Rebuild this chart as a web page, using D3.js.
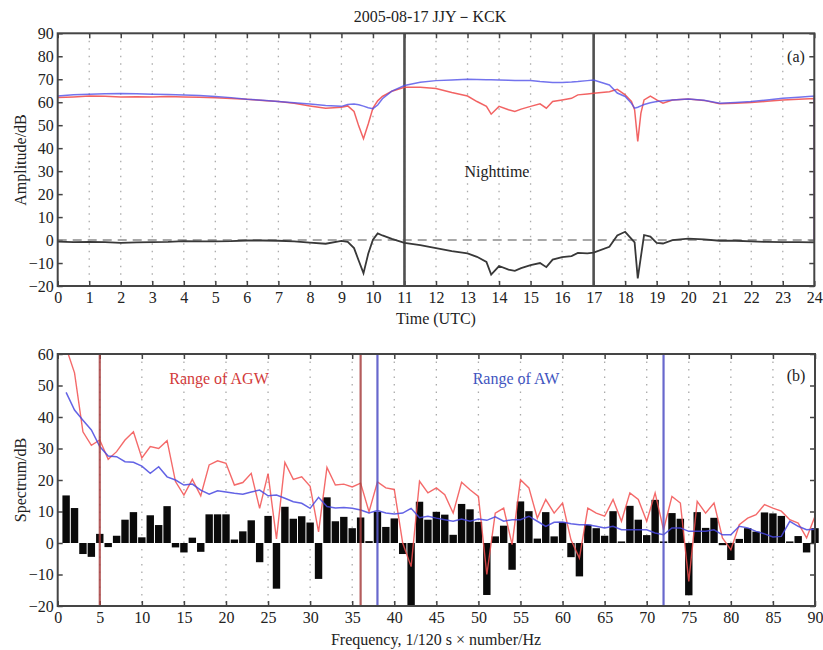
<!DOCTYPE html>
<html><head><meta charset="utf-8">
<script src="https://cdn.jsdelivr.net/npm/d3@7"></script>
<style>body{margin:0;background:#fff}svg{display:block}text{font-family:"Liberation Serif","DejaVu Serif",serif}</style>
</head><body><svg id="c" width="823" height="650"></svg>
<script>
// ---------- Panel (a) data ----------
const hours = [0,0.5,1,1.5,2,2.5,3,3.5,4,4.5,5,5.5,6,6.5,7,7.5,8,8.5,9,9.2,9.4,9.55,9.7,9.85,10,10.15,10.3,10.6,11,11.5,12,12.5,13,13.3,13.6,13.75,14,14.3,14.5,14.7,15,15.3,15.5,15.7,16,16.3,16.5,16.8,17,17.5,17.75,18,18.2,18.3,18.4,18.5,18.6,18.8,19,19.2,19.5,20,20.5,21,21.5,22,22.5,23,23.5,24];
const ampRed = [62.0,62.3,62.7,62.6,62.3,62.4,62.3,62.5,62.3,62.2,61.9,61.6,61.3,60.8,60.3,59.5,58.4,57.4,57.8,58.4,56.0,49.6,44.1,50.5,57.5,60.6,62.5,64.8,66.5,66.5,66.0,64.2,62.7,60.3,58.2,54.8,58.2,56.7,56.0,57.0,58.2,59.3,57.4,60.3,61.0,61.7,63.2,63.6,63.9,64.6,65.6,63.2,60.3,56.7,42.9,55.3,61.0,62.7,61.0,59.6,61.0,61.4,60.8,59.3,59.6,59.9,60.4,61.0,61.3,61.6];
const ampBlue = [62.7,63.2,63.5,63.7,63.8,63.7,63.5,63.4,63.1,62.9,62.5,62.0,61.3,60.9,60.3,59.8,59.2,58.6,58.2,59.0,59.2,58.9,58.3,57.6,57.2,58.8,61.5,64.8,67.3,68.7,69.4,69.7,70.0,69.9,69.8,69.8,69.7,69.6,69.5,69.5,69.4,69.0,68.8,68.6,68.6,68.8,69.0,69.4,69.7,67.5,64.0,62.5,59.5,57.4,57.8,58.4,59.0,59.8,60.3,60.6,61.0,61.4,60.9,59.6,59.9,60.3,61.0,61.7,62.2,62.7];
const ampDiff = [-0.7,-0.9,-0.8,-0.9,-1.2,-1.0,-0.9,-0.8,-0.5,-0.6,-0.6,-0.5,-0.2,-0.2,-0.3,-0.6,-1.1,-1.6,-0.4,-0.8,-3.5,-9.0,-14.4,-6.0,0.2,2.9,2.0,0.5,-1.2,-2.2,-3.5,-4.8,-5.8,-7.3,-9.5,-15.0,-11.3,-12.9,-13.4,-12.2,-10.9,-10.0,-11.8,-8.5,-7.4,-7.0,-5.6,-5.8,-5.5,-2.9,2.0,3.6,0.5,-1.0,-16.7,-7.2,2.2,1.5,-1.2,-1.5,0.0,0.6,0.3,-0.3,-0.3,-0.6,-0.8,-0.9,-0.9,-1.0];
const endDrop = [24, 0]; // last sample drops to 0 dB
const nightLines = [11, 17];
const hourTicks = d3.range(0, 25, 1);
const ampTicks = [90,80,70,60,50,40,30,20,10,0,-10,-20];

// ---------- Panel (b) data ----------
const freqs = d3.range(1, 91);
const specDiff = [15.1,11.1,-3.5,-4.4,2.9,-1.3,2.3,7.4,9.8,1.8,8.8,5.7,11.7,-1.4,-3.0,1.7,-2.8,9.1,9.1,9.1,1.1,3.7,7.2,-6.1,8.6,-14.5,11.5,7.7,8.5,6.5,-11.4,14.5,6.9,8.3,4.7,8.1,0.6,9.9,5.1,7.8,-3.5,-20.0,13.1,7.4,9.9,9.0,2.6,12.4,10.7,6.7,-16.5,2.1,5.5,-8.5,13.2,10.1,1.4,9.8,2.1,6.6,-4.5,-10.6,5.8,4.7,2.3,10.1,0.5,11.8,7.4,2.5,13.7,0.5,9.5,7.7,-16.6,9.8,4.8,8.0,-0.7,-5.4,1.3,4.7,3.6,9.7,9.4,8.6,0.5,2.2,-3.0,4.7];
const specRed = [62,54,35.3,31,32.7,26.6,29,32.7,35.3,27,30.6,30,32.5,19.5,15.2,20.2,15,24.8,26.1,25.3,18.4,19.2,22.1,11,22,1.3,25.6,20.2,21,18,3.5,24,18.4,18.7,17.8,19,9.9,19.4,17.5,17,0,-7.5,19.6,15.9,17.5,15.3,9.5,19.3,16.9,14.8,-10,9.5,11.1,-0.5,20.1,17.5,7.9,13.8,9.5,12.7,1,-4.8,11.1,9.5,8.5,13.8,6.9,15.9,13.8,6.9,15.9,4.2,14.8,12.7,-12.2,13.2,9.5,12.7,1.6,-2.1,5.8,7.9,9,12.2,11.1,10.1,7.4,6.3,1.6,8.5];
const specBlue = [47.8,42.2,39,35.9,30.6,27.6,27.4,25.8,25.6,24.4,22.1,24.2,21,20,18.4,18.7,16.8,15.5,16.6,16.2,15.8,15.5,16.2,16.8,15,15.2,14.2,13.1,12.6,11,14.5,11.6,11.1,11.3,11,10.5,9.5,10.3,9.5,9.2,9.5,11,8,8.5,7.9,7.4,6.9,7.6,6.9,7.6,7.2,8.3,6.9,7.4,7.4,8.5,6.9,5.3,6.6,6.7,6.1,5.8,5.8,5.3,4.8,5.3,4.2,4.2,4.2,4.2,3.2,2.6,4.8,4.8,3.7,3.7,3.7,4.2,2.6,2.6,5.3,4.8,3.7,2.9,1.9,2.1,6.9,5.3,4.2,4.4];
const agwRange = [5, 36];
const awRange = [38, 72];
const freqTicks = d3.range(0, 91, 5);
const specTicks = [60,50,40,30,20,10,0,-10,-20];

const svg = d3.select("#c");
const fmt = v => v < 0 ? "\u2212" + Math.abs(v) : String(v);
const FS = 16;

function frame(g, x, y, xt, yt) {
  const [x0, x1] = x.range(), [y1, y0] = y.range();
  g.selectAll(".grid").data(xt.filter(v => v > x.domain()[0] && v < x.domain()[1])).join("line")
    .attr("x1", d => x(d)).attr("x2", d => x(d)).attr("y1", y0).attr("y2", y1)
    .attr("stroke", "#aaa").attr("stroke-width", 1.3).attr("stroke-dasharray", "1.5,6");
  const tl = 5;
  g.append("g").attr("transform", `translate(0,${y1})`)
    .call(d3.axisBottom(x).tickValues(xt).tickSize(-tl).tickFormat(fmt).tickPadding(6));
  g.append("g").attr("transform", `translate(0,${y0})`)
    .call(d3.axisTop(x).tickValues(xt).tickSize(-tl).tickFormat(""));
  g.append("g").attr("transform", `translate(${x0},0)`)
    .call(d3.axisLeft(y).tickValues(yt).tickSize(-tl).tickFormat(fmt).tickPadding(4));
  g.append("g").attr("transform", `translate(${x1},0)`)
    .call(d3.axisRight(y).tickValues(yt).tickSize(-tl).tickFormat(""));
  g.selectAll(".domain").remove();
  g.selectAll(".tick line").attr("stroke", "#444").attr("stroke-width", 1.5);
  g.selectAll(".tick text").attr("font-size", FS).attr("fill", "#222")
    .attr("font-family", "Liberation Serif, serif");
}
function box(g, x, y) {
  const [x0, x1] = x.range(), [y1, y0] = y.range();
  g.append("rect").attr("x", x0).attr("y", y0).attr("width", x1 - x0).attr("height", y1 - y0)
    .attr("fill", "none").attr("stroke", "#454545").attr("stroke-width", 2);
}

// ---------- Panel (a) ----------
const xa = d3.scaleLinear().domain([0, 24]).range([57.7, 814.3]);
const ya = d3.scaleLinear().domain([-20, 90]).range([286, 33.3]);
const ga = svg.append("g");
frame(ga, xa, ya, hourTicks, ampTicks);
ga.append("line").attr("x1", xa(0)).attr("x2", xa(24)).attr("y1", ya(0)).attr("y2", ya(0))
  .attr("stroke", "#8a8a8a").attr("stroke-width", 1.6).attr("stroke-dasharray", "9,6");
nightLines.forEach(h => ga.append("line").attr("x1", xa(h)).attr("x2", xa(h))
  .attr("y1", ya(90)).attr("y2", ya(-20)).attr("stroke", "#505050").attr("stroke-width", 2.6));
const lineA = d3.line().x(d => xa(d[0])).y(d => ya(d[1]));
const redPts = hours.map((h, i) => [h, ampRed[i]]).concat([endDrop]);
const bluePts = hours.map((h, i) => [h, ampBlue[i]]).concat([endDrop]);
const diffPts = hours.map((h, i) => [h, ampDiff[i]]);
ga.append("path").datum(diffPts).attr("d", lineA).attr("fill", "none").attr("stroke", "#383838").attr("stroke-width", 1.8);
ga.append("path").datum(redPts).attr("d", lineA).attr("fill", "none").attr("stroke", "#f04848").attr("stroke-width", 1.5).attr("opacity", 0.85);
ga.append("path").datum(bluePts).attr("d", lineA).attr("fill", "none").attr("stroke", "#5050e8").attr("stroke-width", 1.5).attr("opacity", 0.8);
box(ga, xa, ya);
svg.append("text").attr("x", 430).attr("y", 22).attr("text-anchor", "middle").attr("font-size", 16).attr("fill", "#222")
  .text("2005-08-17  JJY\uFF0DKCK");
svg.append("text").attr("x", 796).attr("y", 62).attr("text-anchor", "middle").attr("font-size", 16).attr("fill", "#222").text("(a)");
svg.append("text").attr("x", 497).attr("y", 177).attr("text-anchor", "middle").attr("font-size", 16).attr("fill", "#222").text("Nighttime");
svg.append("text").attr("transform", "translate(26,160) rotate(-90)").attr("text-anchor", "middle").attr("font-size", 16).attr("fill", "#222").text("Amplitude/dB");
svg.append("text").attr("x", 436).attr("y", 324).attr("text-anchor", "middle").attr("font-size", 16).attr("fill", "#222").text("Time (UTC)");

// ---------- Panel (b) ----------
const xb = d3.scaleLinear().domain([0, 90]).range([57.7, 815]);
const yb = d3.scaleLinear().domain([-20, 60]).range([606, 354]);
const gb = svg.append("g");
frame(gb, xb, yb, freqTicks, specTicks);
const bw = (xb(1) - xb(0)) * 0.88;
gb.selectAll(".bar").data(freqs).join("rect")
  .attr("x", (d) => xb(d) - bw / 2)
  .attr("y", (d, i) => yb(Math.max(0, specDiff[i])))
  .attr("width", bw)
  .attr("height", (d, i) => Math.abs(yb(specDiff[i]) - yb(0)))
  .attr("fill", "#0a0a0a");
const lineB = d3.line().x(d => xb(d[0])).y(d => yb(d[1]));
svg.append("clipPath").attr("id", "cb").append("rect")
  .attr("x", xb(0)).attr("y", yb(60)).attr("width", xb(90) - xb(0)).attr("height", yb(-20) - yb(60));
gb.append("path").datum(freqs.map((f, i) => [f, specRed[i]])).attr("d", lineB).attr("clip-path", "url(#cb)")
  .attr("fill", "none").attr("stroke", "#f25050").attr("stroke-width", 1.4).attr("opacity", 0.85);
gb.append("path").datum(freqs.map((f, i) => [f, specBlue[i]])).attr("d", lineB).attr("clip-path", "url(#cb)")
  .attr("fill", "none").attr("stroke", "#4848e0").attr("stroke-width", 1.5).attr("opacity", 0.85);
agwRange.forEach(f => gb.append("line").attr("x1", xb(f)).attr("x2", xb(f)).attr("y1", yb(60)).attr("y2", yb(-20))
  .attr("stroke", "#a84040").attr("stroke-width", 2.2).attr("opacity", 0.85));
awRange.forEach(f => gb.append("line").attr("x1", xb(f)).attr("x2", xb(f)).attr("y1", yb(60)).attr("y2", yb(-20))
  .attr("stroke", "#5858c8").attr("stroke-width", 2.2).attr("opacity", 0.9));
box(gb, xb, yb);
svg.append("text").attr("x", 796).attr("y", 381).attr("text-anchor", "middle").attr("font-size", 16).attr("fill", "#222").text("(b)");
svg.append("text").attr("x", 219).attr("y", 384).attr("text-anchor", "middle").attr("font-size", 16).attr("fill", "#d23a3a").text("Range of AGW");
svg.append("text").attr("x", 516).attr("y", 384).attr("text-anchor", "middle").attr("font-size", 16).attr("fill", "#3f55c0").text("Range of AW");
svg.append("text").attr("transform", "translate(26,480) rotate(-90)").attr("text-anchor", "middle").attr("font-size", 16).attr("fill", "#222").text("Spectrum/dB");
svg.append("text").attr("x", 436).attr("y", 645).attr("text-anchor", "middle").attr("font-size", 16).attr("fill", "#222").text("Frequency, 1/120 s \u00D7 number/Hz");
</script></body></html>
